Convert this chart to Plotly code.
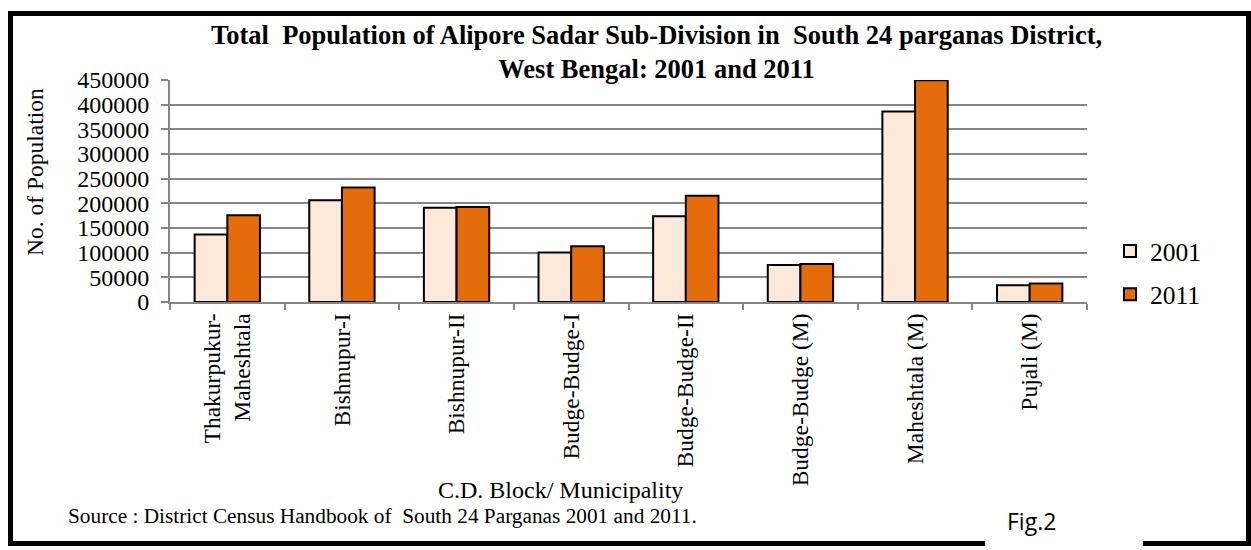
import plotly.graph_objects as go

categories = ["Thakurpukur-<br>Maheshtala", "Bishnupur-I", "Bishnupur-II", "Budge-Budge-I",
              "Budge-Budge-II", "Budge-Budge (M)", "Maheshtala (M)", "Pujali (M)"]
pop_2001 = [136800, 206400, 190800, 100300, 174000, 75100, 386400, 33900]
pop_2011 = [176000, 232200, 192800, 113000, 215200, 77100, 449400, 37300]
y_ticks = [0, 50000, 100000, 150000, 200000, 250000, 300000, 350000, 400000, 450000]

W, H = 1251, 550
L, R, T, B = 170, 164, 80, 248
PW, PH = W - L - R, H - T - B

def px(x):
    return (x - L) / PW

def py(y):
    return (H - B - y) / PH

SERIF = "Liberation Serif"

fig = go.Figure()
fig.add_trace(go.Bar(name="2001", x=categories, y=pop_2001, legendgroup="a",
                     marker=dict(color="#FDE9D9", line=dict(color="black", width=2))))
fig.add_trace(go.Bar(name="2011", x=categories, y=pop_2011, legendgroup="b",
                     marker=dict(color="#E46C0A", line=dict(color="black", width=2))))

fig.update_layout(
    width=W, height=H,
    margin=dict(l=L, r=R, t=T, b=B, autoexpand=False),
    paper_bgcolor="white", plot_bgcolor="white",
    barmode="group", bargap=0.43, bargroupgap=0,
    font=dict(family=SERIF, color="black"),
    showlegend=True,
    legend=dict(x=px(1110), y=py(228), xanchor="left", yanchor="top",
                font=dict(family=SERIF, size=25.5, color="black"),
                tracegroupgap=7, traceorder="grouped", itemwidth=30,
                bgcolor="rgba(0,0,0,0)"),
    xaxis=dict(type="category", showgrid=False, showline=True, linecolor="#868686", linewidth=2,
               ticks="outside", tickson="boundaries", ticklen=6, tickcolor="#868686", tickwidth=2,
               tickangle=-90, tickfont=dict(family=SERIF, size=23.5, color="black")),
    yaxis=dict(range=[0, 450000], tickvals=y_ticks, ticktext=[str(v) for v in y_ticks],
               showgrid=True, gridcolor="#868686", gridwidth=2,
               showline=True, linecolor="#868686", linewidth=2,
               ticks="outside", ticklen=7, tickcolor="#868686", tickwidth=2,
               ticklabelstandoff=7,
               tickfont=dict(family=SERIF, size=24, color="black"), zeroline=False),
)

fig.add_annotation(text="<b>Total  Population of Alipore Sadar Sub-Division in  South 24 parganas District,<br>West Bengal: 2001 and 2011</b>",
                   xref="paper", yref="paper", x=px(656), y=py(18), xanchor="center", yanchor="top",
                   showarrow=False, font=dict(family=SERIF, size=26.5, color="black"))
fig.add_annotation(text="No. of Population", textangle=-90,
                   xref="paper", yref="paper", x=px(35), y=py(172), xanchor="center", yanchor="middle",
                   showarrow=False, font=dict(family=SERIF, size=23.5, color="black"))
fig.add_annotation(text="C.D. Block/ Municipality",
                   xref="paper", yref="paper", x=px(560), y=py(490), xanchor="center", yanchor="middle",
                   showarrow=False, font=dict(family=SERIF, size=24, color="black"))
fig.add_annotation(text="Source : District Census Handbook of  South 24 Parganas 2001 and 2011.",
                   xref="paper", yref="paper", x=px(66), y=py(516), xanchor="left", yanchor="middle",
                   showarrow=False, font=dict(family=SERIF, size=21.3, color="black"))
fig.add_annotation(text="Fig.2",
                   xref="paper", yref="paper", x=px(1005), y=py(521), xanchor="left", yanchor="middle",
                   showarrow=False, font=dict(family="Open Sans, sans-serif", size=23, color="black"))

frame = dict(color="black", width=5)
for x0, y0, x1, y1 in [(10.5, 11, 10.5, 546), (8, 13.5, 1251, 13.5), (1248.5, 11, 1248.5, 546),
                       (8, 543.5, 985, 543.5), (1143, 543.5, 1251, 543.5)]:
    fig.add_shape(type="line", xref="paper", yref="paper", x0=px(x0), y0=py(y0), x1=px(x1), y1=py(y1),
                  line=frame, layer="above")

fig.write_html("out.html", config={"displayModeBar": False},
               post_script="document.body.style.margin='0';document.body.style.overflow='hidden';")
